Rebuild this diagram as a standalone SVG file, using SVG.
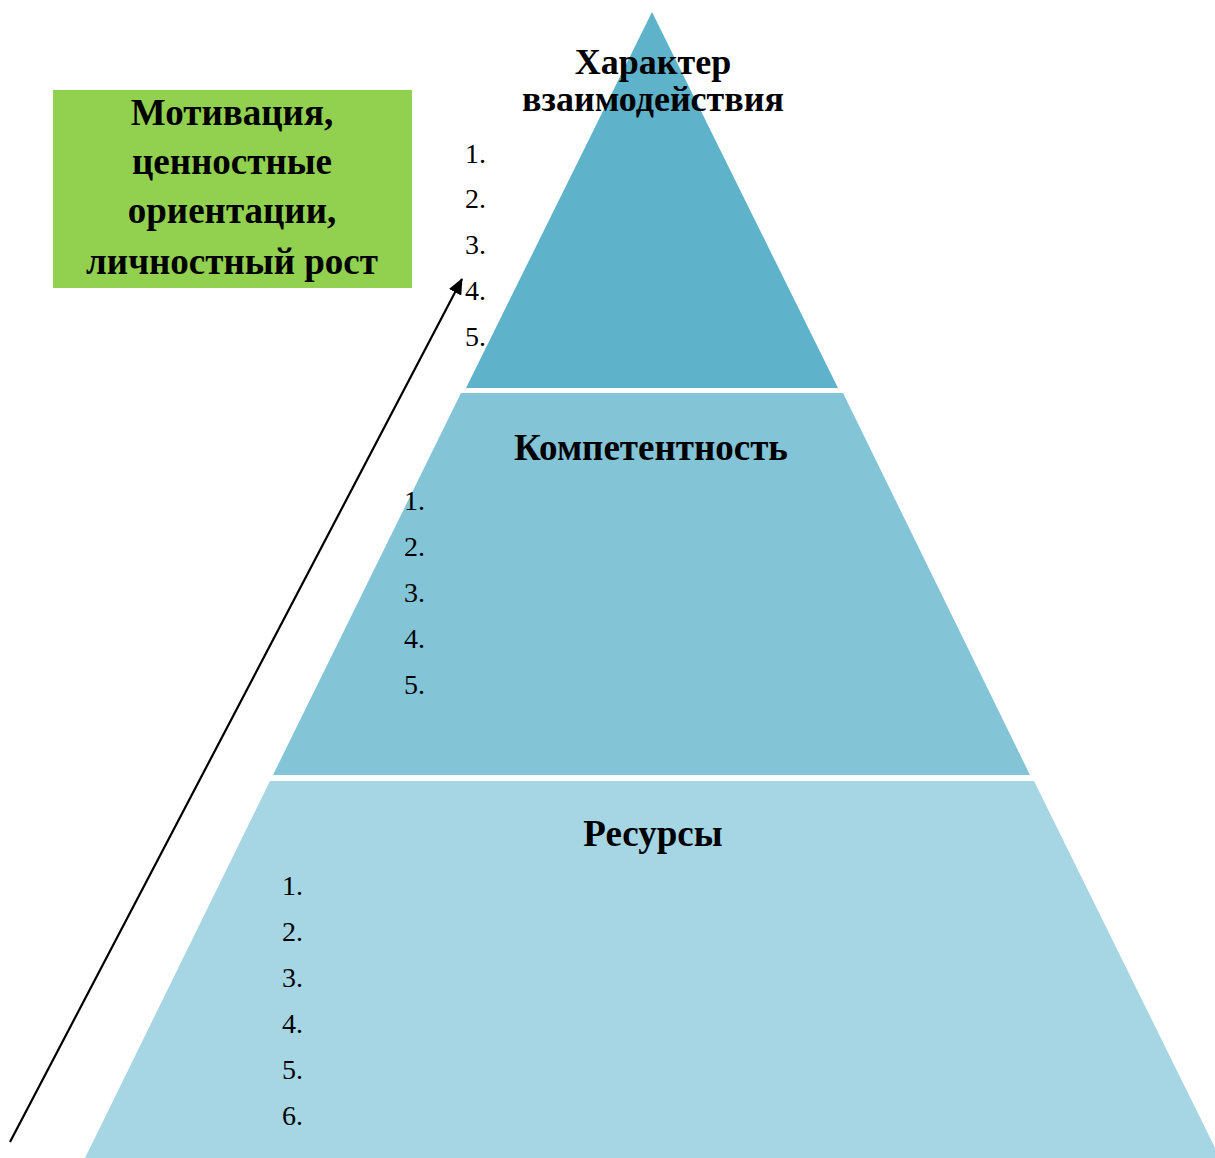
<svg xmlns="http://www.w3.org/2000/svg" width="1215" height="1158" viewBox="0 0 1215 1158">
<defs>
<style>
.t{font-family:"Liberation Serif","Times New Roman",serif;font-weight:bold;font-size:37px;fill:#000;text-anchor:middle}
.h{font-family:"Liberation Serif","Times New Roman",serif;font-weight:bold;font-size:36px;fill:#000;text-anchor:middle}
.n{font-family:"Liberation Serif","Times New Roman",serif;font-size:28px;fill:#000}
</style>
<marker id="ah" markerWidth="16" markerHeight="14" refX="15" refY="7" orient="auto" markerUnits="userSpaceOnUse" viewBox="0 0 16 14">
<path d="M0,0 L16,7 L0,14 z" fill="#000"/>
</marker>
</defs>
<rect width="1215" height="1158" fill="#fff"/>
<g id="layer-top">
<polygon points="652,12 838,388 466,388" fill="#5EB3CB"/>
<text class="h" x="653" y="74">Характер</text>
<text class="h" x="653" y="111">взаимодействия</text>
<text class="n" x="465" y="163">1.</text>
<text class="n" x="465" y="208">2.</text>
<text class="n" x="465" y="254">3.</text>
<text class="n" x="465" y="300">4.</text>
<text class="n" x="465" y="346">5.</text>
</g>
<g id="layer-middle">
<polygon points="461,393 843,393 1030,775 273,775" fill="#83C4D6"/>
<text class="t" x="651" y="460">Компетентность</text>
<text class="n" x="404" y="510">1.</text>
<text class="n" x="404" y="556">2.</text>
<text class="n" x="404" y="602">3.</text>
<text class="n" x="404" y="648">4.</text>
<text class="n" x="404" y="694">5.</text>
</g>
<g id="layer-bottom">
<polygon points="270,781 1034,781 1220,1158 85,1158" fill="#A6D5E3"/>
<text class="t" x="653" y="846">Ресурсы</text>
<text class="n" x="282" y="895">1.</text>
<text class="n" x="282" y="941">2.</text>
<text class="n" x="282" y="987">3.</text>
<text class="n" x="282" y="1033">4.</text>
<text class="n" x="282" y="1079">5.</text>
<text class="n" x="282" y="1125">6.</text>
</g>
<g id="motivation">
<rect x="53" y="90" width="359" height="198" fill="#92D050"/>
<text class="t" x="232" y="125">Мотивация,</text>
<text class="t" x="232" y="174">ценностные</text>
<text class="t" x="232" y="223">ориентации,</text>
<text class="t" x="232" y="274">личностный рост</text>
</g>
<g id="connectors">
<line x1="10" y1="1142" x2="462" y2="279" stroke="#000" stroke-width="2.2" marker-end="url(#ah)"/>
</g>
</svg>
